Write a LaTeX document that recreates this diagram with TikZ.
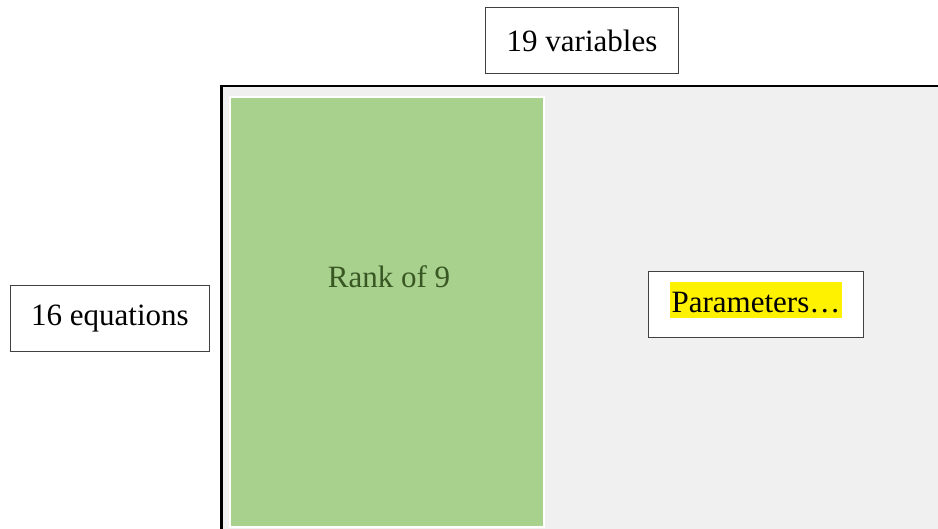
\documentclass[tikz,border=0pt]{standalone}
\usepackage{fontspec}
\setmainfont{Liberation Serif}
\usepackage{tikz}
\usetikzlibrary{positioning}
\definecolor{matrixgrey}{HTML}{F0F0F0}
\definecolor{rankgreen}{HTML}{A9D18E}
\definecolor{ranktext}{HTML}{385723}
\definecolor{boxline}{HTML}{404040}
\setlength{\fboxsep}{2pt}

\begin{document}
\begin{tikzpicture}[x=1pt, y=-1pt, every node/.style={font=\fontsize{31}{37}\selectfont}, labelbox/.style={draw=boxline, line width=1pt, fill=white, inner xsep=21pt, minimum height=66pt}]
		\useasboundingbox (0,0) rectangle (938,529);
		\begin{scope}
		\clip (0,0) rectangle (938,529);
		\node [draw, line width=2.5pt, fill=matrixgrey, anchor=north west, minimum width=760pt, minimum height=480pt] at (220,85) (matri) {};
		\end{scope}
		\node [draw=white, line width=2pt, fill=rankgreen, anchor=north west, inner sep=0pt, minimum width=314pt, minimum height=430pt] at (229,96) (rankblk) {};
		\node [text=ranktext] at (389,277) (rankof) {Rank of 9};
		\node [labelbox] at (582,41) (variabl) {19 variables};
		\node [labelbox] at (110,319) (equati) {16 equations};
		\node [labelbox, text height=30pt, text depth=15pt] at (756,305) (paramet) {\colorbox{yellow}{\rule[-4pt]{0pt}{32pt}Parameters…}};
		\end{tikzpicture}
\end{document}
